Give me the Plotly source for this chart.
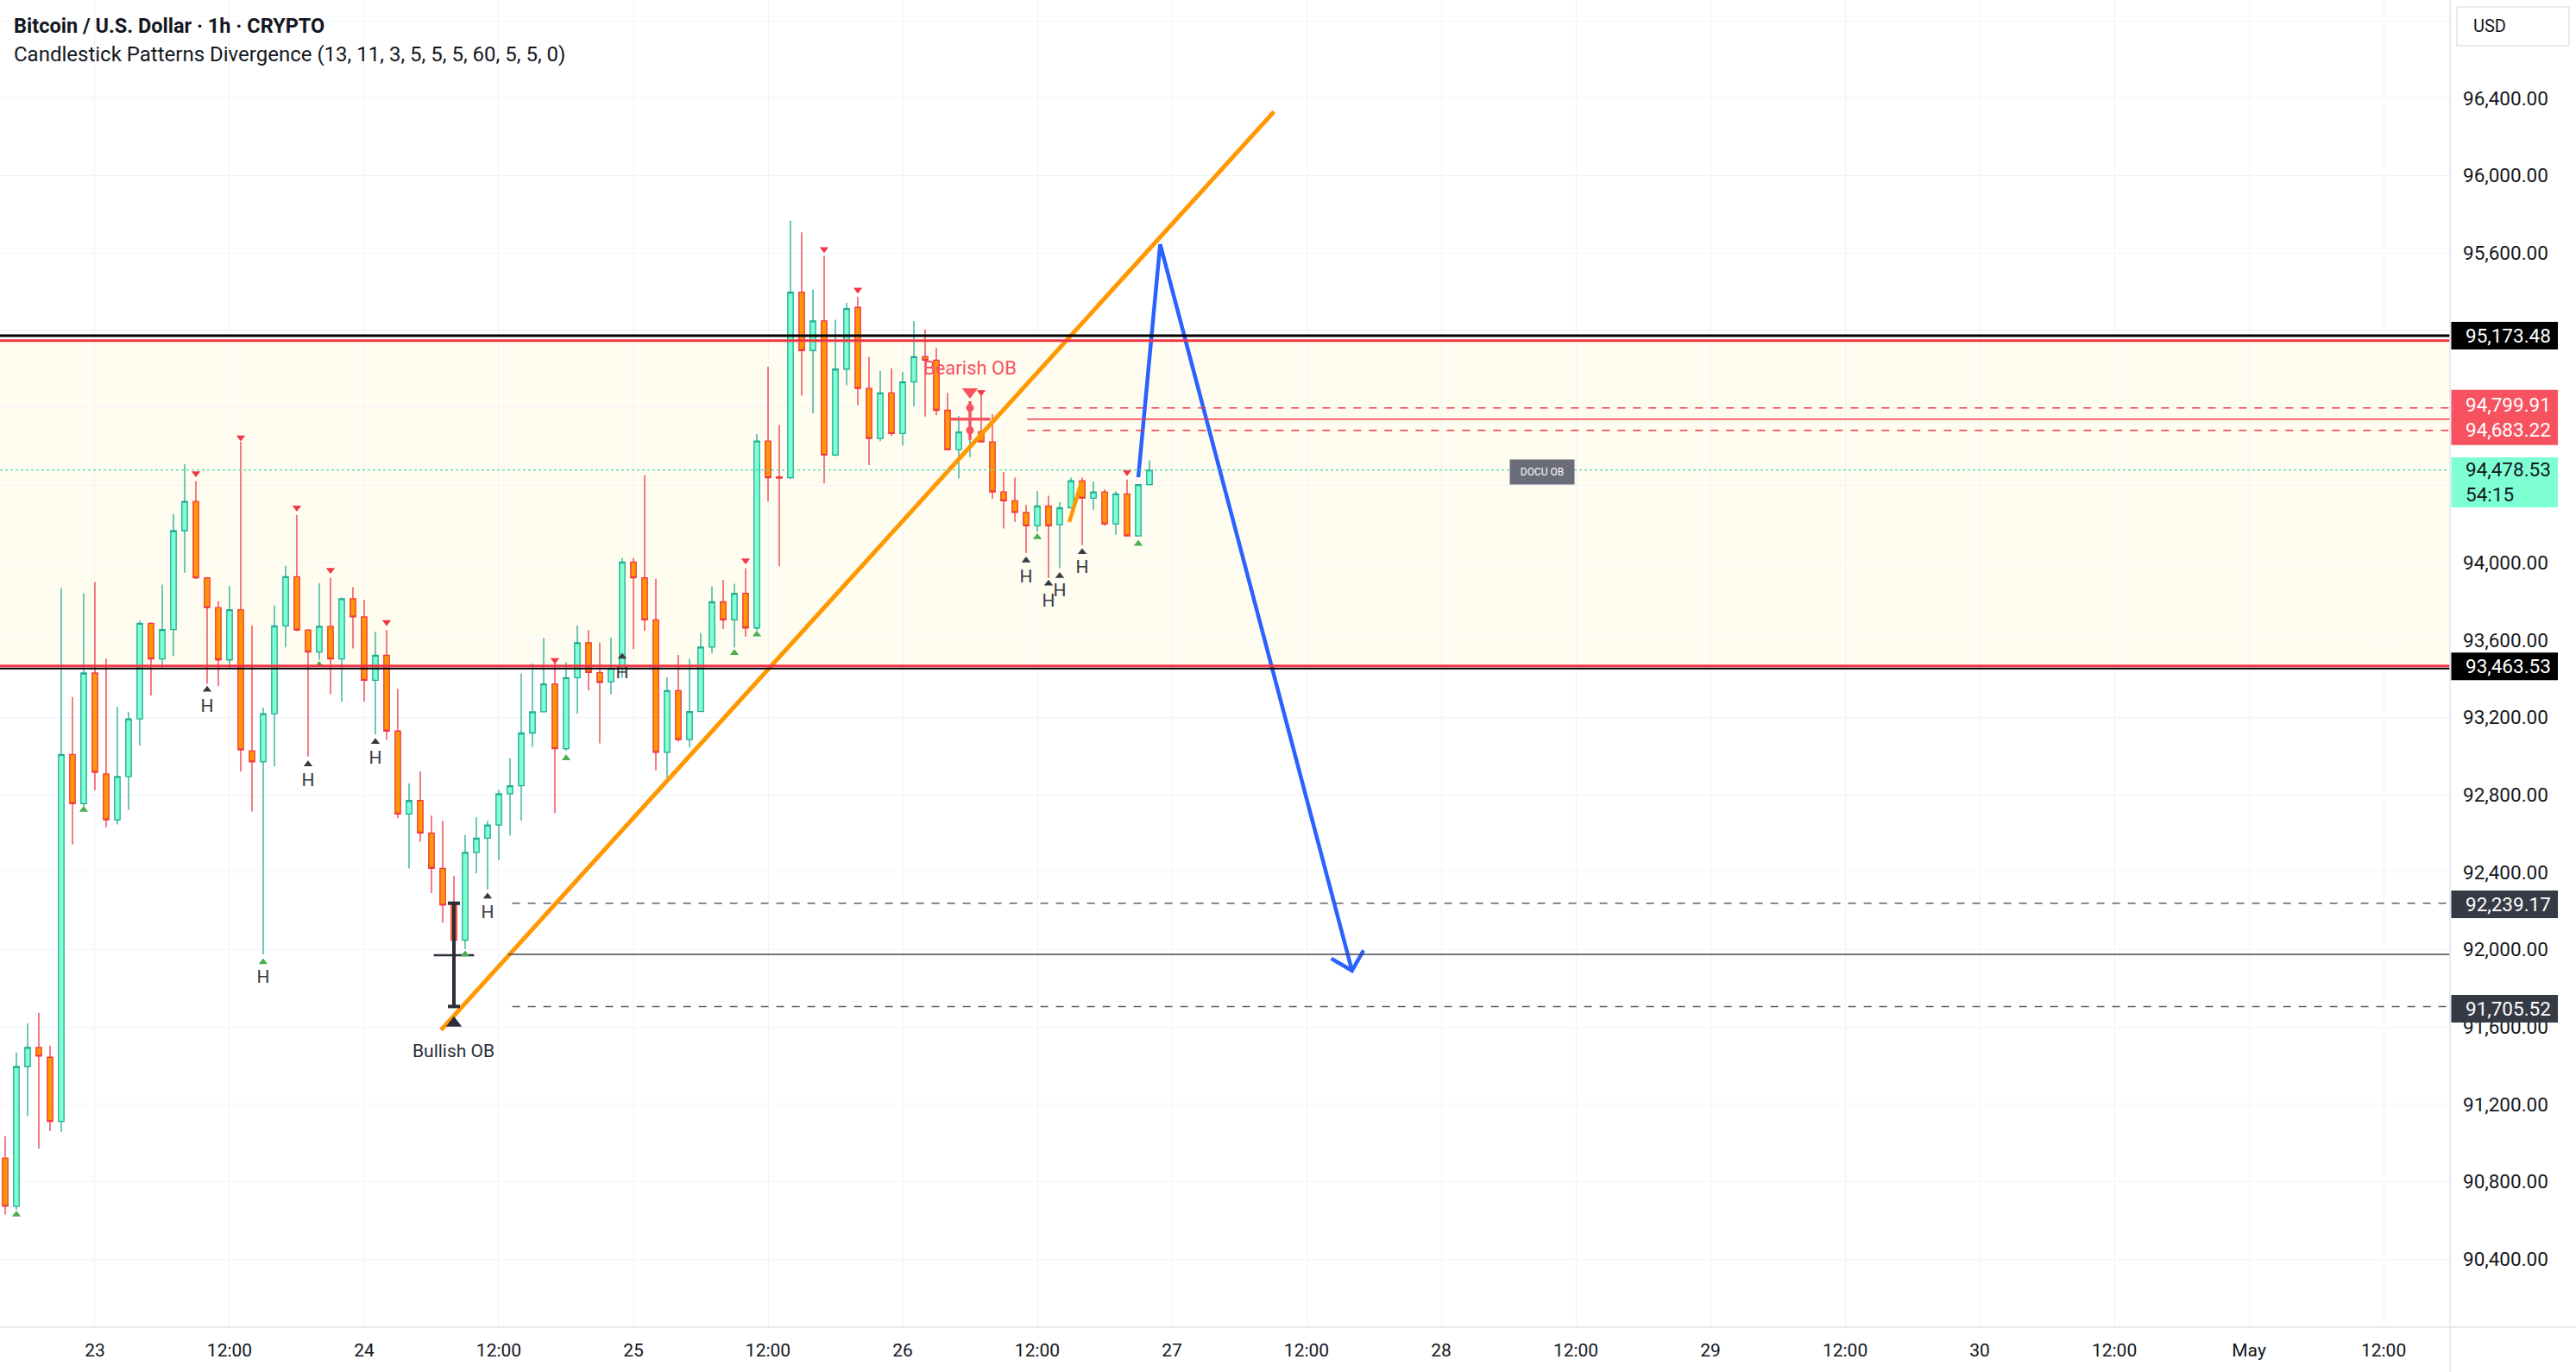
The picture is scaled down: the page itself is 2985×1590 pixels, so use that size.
import plotly.graph_objects as go
import pandas as pd
from datetime import datetime, timedelta

# ---------------- data ----------------
times = pd.date_range("2025-04-22 16:00", periods=103, freq="h")
opens = [90922, 90673, 91395, 91494, 91443, 91111, 93008, 92754, 93429, 92908,
         92670, 92894, 93192, 93686, 93502, 93654, 94165, 94316, 93921, 93767,
         93497, 93756, 93027, 92970, 93219, 93673, 93927, 93651, 93538, 93670,
         93502, 93813, 93719, 93392, 93521, 93129, 92700, 92770, 92602, 92419,
         92239, 92048, 92502, 92575, 92643, 92805, 92846, 93119, 93229, 93373,
         93038, 93405, 93586, 93432, 93384, 93453, 94003, 93921, 93704, 93019,
         93338, 93085, 93230, 93563, 93797, 93704, 93841, 93662, 94628, 94443,
         94439, 95398, 95096, 95249, 94556, 95000, 95319, 94900, 94642, 94877,
         94667, 94934, 95064, 95046, 94787, 94584, 94676, 94677, 94624, 94365,
         94319, 94259, 94190, 94293, 94196, 94283, 94423, 94333, 94365, 94200,
         94355, 94138, 94403]
highs = [91035, 91467, 91619, 91673, 91503, 93867, 93305, 93840, 93900, 93502,
         93254, 93227, 93700, 93690, 93886, 94251, 94508, 94421, 93925, 93800,
         93878, 94624, 93675, 93251, 93778, 93983, 94246, 93655, 93894, 93921,
         93820, 93873, 93808, 93643, 93651, 93348, 92859, 92921, 92692, 92665,
         92381, 92592, 92684, 92665, 92824, 92989, 93427, 93478, 93611, 93502,
         93486, 93675, 93651, 93586, 93612, 94024, 94024, 94452, 93915, 93407,
         93523, 93503, 93636, 93877, 93911, 93891, 93971, 94664, 95012, 94711,
         95767, 95707, 95412, 95587, 95255, 95342, 95374, 95062, 94990, 95004,
         94986, 95249, 95205, 95109, 94877, 94757, 94794, 94892, 94767, 94468,
         94439, 94299, 94369, 94345, 94313, 94439, 94439, 94419, 94379, 94369,
         94429, 94403, 94528]
lows = [90630, 90655, 91138, 90970, 91062, 91057, 92543, 92740, 92824, 92632,
        92646, 92721, 93054, 93313, 93456, 93516, 93948, 93915, 93373, 93362,
        93448, 92919, 92713, 91975, 92946, 93562, 93645, 92997, 93497, 93321,
        93281, 93556, 93281, 93111, 93084, 92678, 92419, 92557, 92292, 92138,
        91705, 92003, 92394, 92311, 92462, 92589, 92665, 93048, 93225, 92705,
        93027, 93219, 93340, 93065, 93320, 93403, 93553, 93648, 92925, 92886,
        93075, 93045, 93228, 93533, 93656, 93562, 93616, 93650, 94315, 93981,
        94433, 94863, 94771, 94409, 94550, 94916, 94813, 94504, 94628, 94654,
        94604, 94807, 94755, 94761, 94580, 94435, 94545, 94620, 94329, 94176,
        94210, 94050, 94160, 93921, 93971, 94280, 94090, 94273, 94190, 94144,
        94138, 94135, 94400]
closes = [90673, 91395, 91494, 91449, 91111, 93008, 92754, 93429, 92916, 92670,
          92894, 93192, 93686, 93502, 93654, 94165, 94316, 93921, 93767, 93497,
          93756, 93032, 92970, 93219, 93673, 93927, 93651, 93538, 93670, 93502,
          93813, 93719, 93392, 93521, 93129, 92700, 92770, 92602, 92419, 92230,
          92048, 92502, 92575, 92643, 92805, 92846, 93119, 93229, 93373, 93038,
          93405, 93586, 93432, 93381, 93453, 94003, 93921, 93704, 93019, 93338,
          93085, 93230, 93563, 93797, 93704, 93841, 93662, 94628, 94439, 94437,
          95398, 95096, 95249, 94556, 95000, 95313, 94900, 94642, 94877, 94667,
          94934, 95064, 95046, 94787, 94584, 94675, 94684, 94624, 94365, 94319,
          94259, 94190, 94293, 94190, 94283, 94423, 94333, 94365, 94200, 94355,
          94138, 94403, 94478.53]

# signal markers (hours from Apr 23 00:00, price)
bear_sig_h = [9, 13, 18, 21, 26, 41, 58, 65, 68, 79, 92]
bear_sig_p = [94462, 94647, 94284, 93962, 93692, 93496, 94011, 95620, 95410, 94881, 94467]
bull_sig_h = [-7, -1, 15, 20, 33, 42, 57, 59, 84, 93]
bull_sig_p = [90630, 92722, 91935, 93471, 91975, 92989, 93533, 93629, 94131, 94097]
hmark_h = [10, 19, 25, 35, 47, 83, 85, 86, 88]
hmark_p = [93343, 92957, 93073, 92274, 93514, 94011, 93892, 93931, 94055]
hlabel_h = [10, 15, 19, 25, 35, 47, 83, 85, 86, 88]
hlabel_p = [93252, 91849, 92868, 92984, 92185, 93426, 93922, 93796, 93849, 93969]

# drawings
trend_h = [30.85, 105.1]
trend_p = [91584, 96331]
mini_trend_h = [86.85, 87.95]
mini_trend_p = [94210, 94418]
path_h = [93.0, 94.95, 112.05]
path_p = [94441, 95645, 91891]
arrow_h = [110.2, 112.05, 113.08]
arrow_p = [91953, 91891, 91995]

level_black_top = 95173.48
level_red_top = 95147
level_red_bot = 93466
level_black_bot = 93452
last_price = 94478.53
bear_ob_hi, bear_ob_mid, bear_ob_lo = 94799.91, 94741, 94683.22
bull_ob_hi, bull_ob_mid, bull_ob_lo = 92239.17, 91970, 91705.52

price_ticks = [90400, 90800, 91200, 91600, 92000, 92400, 92800, 93200, 93600,
               94000, 94400, 94800, 95200, 95600, 96000, 96400, 96800]
hidden_ticks = [94400, 94800, 95200, 96800]   # covered by price labels / USD box
time_tick_h = list(range(0, 205, 12))
time_tick_text = ["23", "12:00", "24", "12:00", "25", "12:00", "26", "12:00", "27",
                  "12:00", "28", "12:00", "29", "12:00", "30", "12:00", "May", "12:00"]

# right-axis price labels: (centre price, text, bg, fg, half-height px)
price_labels = [
    (95173.48, "95,173.48", "#000000", "#ffffff", 16),
    (94750, "94,799.91<br>94,683.22", "#f7525f", "#ffffff", 32),
    (94415, "94,478.53<br>54:15", "#7fffd4", "#131722", 29),
    (93463.53, "93,463.53", "#000000", "#ffffff", 16),
    (92234, "92,239.17", "#363a45", "#ffffff", 16),
    (91694, "91,705.52", "#363a45", "#ffffff", 16),
]

BASE = datetime(2025, 4, 23)


def t(h):
    return BASE + timedelta(hours=h)


X0, X1 = t(-8.46), t(209.92)
Y0, Y1 = 90048, 96908
PW = 2839.0   # plot width px
PH = 1538.0   # plot height px
PX_PER_USD = PH / (Y1 - Y0)

FONT = "Roboto"
TXT = "#131722"

fig = go.Figure()

fig.add_trace(go.Candlestick(
    x=times, open=opens, high=highs, low=lows, close=closes,
    increasing=dict(fillcolor="#7fffd4", line=dict(color="#22ab94", width=1.3)),
    decreasing=dict(fillcolor="#ff9800", line=dict(color="#f23645", width=1.3)),
    whiskerwidth=0, showlegend=False, hoverinfo="skip",
))

# orange trendlines
fig.add_trace(go.Scatter(x=[t(h) for h in trend_h], y=trend_p, mode="lines",
                         line=dict(color="#ff9800", width=5), showlegend=False, hoverinfo="skip"))
fig.add_trace(go.Scatter(x=[t(h) for h in mini_trend_h], y=mini_trend_p, mode="lines",
                         line=dict(color="#ff9800", width=4.5), showlegend=False, hoverinfo="skip"))

# OB markers
fig.add_trace(go.Scatter(x=[t(78), t(78)], y=[94834, 94634], mode="lines",
                         line=dict(color="#f7525f", width=3.5), showlegend=False, hoverinfo="skip"))
fig.add_trace(go.Scatter(x=[t(76.3), t(79.8)], y=[bear_ob_mid, bear_ob_mid], mode="lines",
                         line=dict(color="#f7525f", width=3.5), showlegend=False, hoverinfo="skip"))
fig.add_trace(go.Scatter(x=[t(78), t(78)], y=[bear_ob_hi, bear_ob_lo], mode="markers",
                         marker=dict(color="#f7525f", size=9, symbol="circle"), showlegend=False, hoverinfo="skip"))
fig.add_trace(go.Scatter(x=[t(78)], y=[94883], mode="markers",
                         marker=dict(color="#f7525f", size=16, symbol="triangle-down"), showlegend=False, hoverinfo="skip"))

fig.add_trace(go.Scatter(x=[t(32), t(32)], y=[bull_ob_hi, bull_ob_lo], mode="lines",
                         line=dict(color="#2a2e39", width=4), showlegend=False, hoverinfo="skip"))
fig.add_trace(go.Scatter(x=[t(30.2), t(33.8)], y=[bull_ob_mid, bull_ob_mid], mode="lines",
                         line=dict(color="#2a2e39", width=2.5), showlegend=False, hoverinfo="skip"))
fig.add_trace(go.Scatter(x=[t(32), t(32)], y=[bull_ob_hi, bull_ob_lo], mode="markers",
                         marker=dict(color="#2a2e39", size=10, symbol="line-ew", line=dict(color="#2a2e39", width=4)),
                         showlegend=False, hoverinfo="skip"))
fig.add_trace(go.Scatter(x=[t(32)], y=[91619], mode="markers",
                         marker=dict(color="#2a2e39", size=16, symbol="triangle-up"), showlegend=False, hoverinfo="skip"))

# signal markers
fig.add_trace(go.Scatter(x=[t(h) for h in bear_sig_h], y=bear_sig_p, mode="markers",
                         marker=dict(color="#f23645", size=9, symbol="triangle-down"), showlegend=False, hoverinfo="skip"))
fig.add_trace(go.Scatter(x=[t(h) for h in bull_sig_h], y=bull_sig_p, mode="markers",
                         marker=dict(color="#4caf50", size=9, symbol="triangle-up"), showlegend=False, hoverinfo="skip"))
fig.add_trace(go.Scatter(x=[t(h) for h in hmark_h], y=hmark_p, mode="markers",
                         marker=dict(color="#363a45", size=9, symbol="triangle-up"), showlegend=False, hoverinfo="skip"))
fig.add_trace(go.Scatter(x=[t(h) for h in hlabel_h], y=hlabel_p, mode="text", text=["H"] * len(hlabel_h),
                         textfont=dict(family=FONT, size=21, color="#363a45"), showlegend=False, hoverinfo="skip"))

# blue projection path with arrow head
fig.add_trace(go.Scatter(x=[t(h) for h in path_h], y=path_p, mode="lines",
                         line=dict(color="#2962ff", width=4.5), showlegend=False, hoverinfo="skip"))
fig.add_trace(go.Scatter(x=[t(h) for h in arrow_h], y=arrow_p, mode="lines",
                         line=dict(color="#2962ff", width=4.5), showlegend=False, hoverinfo="skip"))

shapes = []
# yellow zone
shapes.append(dict(type="rect", xref="paper", yref="y", x0=0, x1=1, y0=level_red_bot, y1=level_red_top,
                   fillcolor="rgba(255,235,59,0.08)", line=dict(width=0), layer="below"))


def hline(y, color, width, dash="solid", x0=None):
    if x0 is None:
        return dict(type="line", xref="paper", yref="y", x0=0, x1=1, y0=y, y1=y,
                    line=dict(color=color, width=width, dash=dash), layer="above")
    return dict(type="line", xref="x", yref="y", x0=x0, x1=X1, y0=y, y1=y,
                line=dict(color=color, width=width, dash=dash), layer="above")


shapes += [
    hline(level_black_top, "#000000", 3),
    hline(level_red_top, "#f23645", 3),
    hline(level_black_bot, "#000000", 2),
    hline(level_red_bot, "#f23645", 3),
    hline(last_price, "#4fd8b0", 1.2, "dot"),
    hline(bear_ob_hi, "#f23645", 1.5, "dash", t(83.1)),
    hline(bear_ob_mid, "#f23645", 1.5, "solid", t(83.1)),
    hline(bear_ob_lo, "#f23645", 1.5, "dash", t(83.1)),
    hline(bull_ob_hi, "#5d606b", 1.5, "dash", t(37.2)),
    hline(91975, "#434651", 1.5, "solid", t(36.85)),
    hline(bull_ob_lo, "#5d606b", 1.5, "dash", t(37.2)),
]
# frame lines
shapes.append(dict(type="line", xref="paper", yref="paper", x0=1, x1=1, y0=-52 / PH, y1=1,
                   line=dict(color="#e0e3eb", width=1.5)))
shapes.append(dict(type="line", xref="paper", yref="paper", x0=0, x1=2985 / PW, y0=0, y1=0,
                   line=dict(color="#e0e3eb", width=1.5)))
# USD box
shapes.append(dict(type="rect", xref="paper", yref="paper", x0=2847 / PW, x1=2977 / PW,
                   y0=1 - 53 / PH, y1=1 - 8 / PH, line=dict(color="#e0e3eb", width=1.5), fillcolor="white"))

annotations = [
    dict(text="<b>Bitcoin / U.S. Dollar · 1h · CRYPTO</b>", xref="paper", yref="paper",
         x=14 / PW, y=1 - 30 / PH, xanchor="left", yanchor="middle", showarrow=False,
         font=dict(family=FONT, size=23.5, color=TXT)),
    dict(text="Candlestick Patterns Divergence (13, 11, 3, 5, 5, 5, 60, 5, 5, 0)", xref="paper", yref="paper",
         x=14 / PW, y=1 - 63 / PH, xanchor="left", yanchor="middle", showarrow=False,
         font=dict(family=FONT, size=24, color=TXT)),
    dict(text="USD", xref="paper", yref="paper", x=2864 / PW, y=1 - 30 / PH, xanchor="left",
         yanchor="middle", showarrow=False, font=dict(family=FONT, size=20, color=TXT)),
    dict(text="Bearish OB", x=t(78), y=95007, xref="x", yref="y", showarrow=False,
         font=dict(family=FONT, size=22, color="#f7525f")),
    dict(text="Bullish OB", x=t(32), y=91476, xref="x", yref="y", showarrow=False,
         font=dict(family=FONT, size=21, color="#2a2e39")),
    dict(text="DOCU OB", x=t(129), y=94470, xref="x", yref="y", showarrow=False,
         font=dict(family=FONT, size=12, color="white"), bgcolor="#6a6d78",
         width=70, height=24, borderpad=2),
]

# price labels on the right axis: background rect (shape) + left-aligned text
for price, text, bg, fg, half in price_labels:
    dy = half / PX_PER_USD
    shapes.append(dict(type="rect", xref="paper", yref="y", x0=1.0005, x1=2964 / PW,
                       y0=price - dy, y1=price + dy, fillcolor=bg, line=dict(width=0), layer="above"))
    annotations.append(dict(text=text, xref="paper", yref="y", x=2855 / PW, y=price,
                            xanchor="left", yanchor="middle", showarrow=False, align="left",
                            font=dict(family=FONT, size=22.5, color=fg)))

fig.update_layout(
    width=2985, height=1590,
    margin=dict(l=0, r=146, t=0, b=52),
    paper_bgcolor="white", plot_bgcolor="white",
    shapes=shapes, annotations=annotations,
    showlegend=False,
    xaxis=dict(type="date", range=[X0, X1], rangeslider=dict(visible=False),
               tickvals=[t(h) for h in time_tick_h], ticktext=time_tick_text,
               showgrid=True, gridcolor="#f0f3fa", gridwidth=1, zeroline=False,
               ticks="", tickfont=dict(family=FONT, size=21, color=TXT), ticklabelstandoff=12,
               showline=False, fixedrange=True),
    yaxis=dict(range=[Y0, Y1], side="right", tickvals=price_ticks,
               ticktext=["" if v in hidden_ticks else f"{v:,.2f}" for v in price_ticks],
               showgrid=True, gridcolor="#f0f3fa", gridwidth=1, zeroline=False,
               ticks="", tickfont=dict(family=FONT, size=22.5, color=TXT), ticklabelstandoff=14,
               showline=False, fixedrange=True),
)

fig.write_html("out.html")
